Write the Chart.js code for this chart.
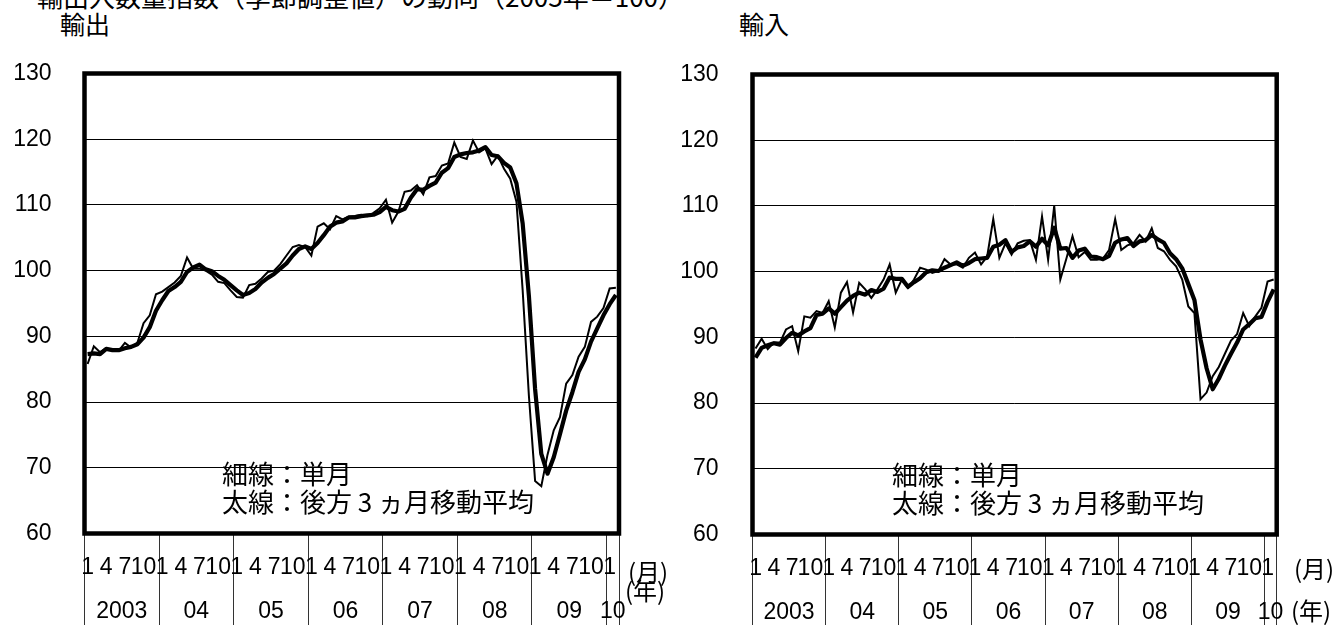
<!DOCTYPE html>
<html><head><meta charset="utf-8">
<script src="https://cdn.jsdelivr.net/npm/chart.js@4.4.1/dist/chart.umd.min.js"></script>
<style>
html,body{margin:0;padding:0;background:#fff;}
body{width:1339px;height:625px;position:relative;overflow:hidden;font-family:"Noto Sans CJK JP","Noto Sans",sans-serif;color:#000;}
canvas{position:absolute;top:0;}
.t{position:absolute;white-space:nowrap;font-size:25px;line-height:28px;}
.a{position:absolute;white-space:nowrap;font-size:26px;line-height:28px;}
.u{position:absolute;white-space:nowrap;font-size:24px;line-height:28px;}
</style></head><body>
<div class="a" style="left:37px;top:-18px;">輸出入数量指数（季節調整値）の動向（2005年＝100）</div>
<div class="t" style="left:60px;top:9px;">輸出</div>
<div class="t" style="left:739px;top:9px;">輸入</div>
<canvas id="c1" width="670" height="625" style="left:0;width:670px;height:625px"></canvas>
<canvas id="c2" width="669" height="625" style="left:670px;width:669px;height:625px"></canvas>
<div class="a" style="left:222px;top:459px;">細線：単月<br>太線：後方 3 ヵ月移動平均</div>
<div class="a" style="left:892px;top:460px;">細線：単月<br>太線：後方 3 ヵ月移動平均</div>
<div class="u" style="left:628px;top:557px;">(月)</div>
<div class="u" style="left:625px;top:576px;">(年)</div>
<div class="u" style="left:1294px;top:554px;">(月)</div>
<div class="u" style="left:1291px;top:596px;">(年)</div>
<script>
// ---- categories / tick labels ----
const years = ['2003','04','05','06','07','08','09','10'];
const monthsInYear = [12,12,12,12,12,12,12,2];
const monthTickLabels = {1:'1',4:'4',7:'7',10:'10'};

// ---- exports (輸出) ----
const exportsMonthly = [
 85.8, 88.5, 87.6, 88.2, 87.8, 87.8, 89.0, 88.3, 89.0, 92.0, 93.2, 96.4,
 96.8, 97.5, 98.2, 99.2, 102.0, 100.3, 100.3, 100.0, 99.4, 98.3, 98.1, 97.0,
 96.0, 95.9, 97.8, 98.0, 98.8, 99.8, 100.0, 101.0, 102.3, 103.6, 103.9, 103.6,
 102.3, 106.7, 107.2, 106.3, 108.3, 107.8, 108.2, 108.3, 108.5, 108.3, 108.8, 109.5,
 110.8, 107.3, 109.0, 112.0, 112.2, 113.0, 111.6, 114.2, 114.4, 116.0, 116.3, 119.5,
 117.3, 117.0, 119.8, 118.0, 118.6, 116.2, 117.5, 115.5, 114.0, 110.5, 97.0, 81.0,
 68.0, 67.2, 72.0, 75.7, 77.7, 82.8, 84.1, 86.9, 88.4, 92.2, 93.0, 94.3,
 97.3, 97.4];
const exportsMA3 = [
 87.3, 87.4, 87.3, 88.1, 87.9, 87.9, 88.2, 88.4, 88.8, 89.8, 91.4, 93.9,
 95.5, 96.9, 97.5, 98.3, 99.8, 100.5, 100.9, 100.2, 99.9, 99.2, 98.6, 97.8,
 97.0, 96.3, 96.6, 97.2, 98.2, 98.9, 99.5, 100.3, 101.1, 102.3, 103.3, 103.7,
 103.3, 104.2, 105.4, 106.7, 107.3, 107.5, 108.1, 108.1, 108.3, 108.4, 108.5, 108.9,
 109.7, 109.2, 109.0, 109.4, 111.1, 112.4, 112.3, 112.9, 113.4, 114.9, 115.6, 117.3,
 117.7, 117.9, 118.0, 118.3, 118.8, 117.6, 117.4, 116.4, 115.7, 113.3, 107.2, 96.2,
 82.0, 72.1, 69.1, 71.6, 75.1, 78.7, 81.5, 84.6, 86.5, 89.2, 91.2, 93.2,
 94.9, 96.3];

// ---- imports (輸入) ----
const importsMonthly = [
 88.3, 89.8, 88.2, 89.2, 89.2, 91.2, 91.7, 87.9, 93.2, 93.0, 94.0, 93.7,
 95.5, 91.5, 96.8, 98.4, 93.8, 98.3, 97.3, 96.0, 97.3, 98.8, 101.1, 96.8,
 98.8, 97.5, 98.8, 100.6, 100.3, 99.8, 100.1, 101.9, 101.1, 101.1, 100.6, 102.1,
 102.9, 101.1, 102.3, 108.0, 102.1, 104.3, 102.6, 104.3, 104.7, 104.8, 101.8, 108.4,
 101.8, 110.0, 98.8, 102.0, 105.4, 102.2, 103.0, 101.8, 101.8, 102.0, 103.3, 108.0,
 103.3, 104.0, 104.3, 105.6, 104.6, 106.6, 103.6, 103.1, 101.8, 100.8, 98.8, 94.7,
 93.7, 80.6, 81.6, 84.1, 85.5, 87.5, 89.5, 90.5, 93.7, 91.7, 93.2, 94.5,
 98.5, 98.8];
const importsMA3 = [
 86.9, 88.4, 88.8, 89.1, 88.9, 89.9, 90.7, 90.3, 90.9, 91.4, 93.4, 93.6,
 94.4, 93.6, 94.6, 95.6, 96.3, 96.8, 96.5, 97.2, 96.9, 97.4, 99.1, 98.9,
 98.9, 97.7, 98.4, 99.0, 99.9, 100.2, 100.1, 100.6, 101.0, 101.4, 100.9, 101.3,
 101.9, 102.0, 102.1, 103.8, 104.1, 104.8, 103.0, 103.7, 103.9, 104.6, 103.8, 105.0,
 104.0, 106.7, 103.5, 103.6, 102.1, 103.2, 103.5, 102.3, 102.2, 101.9, 102.4, 104.4,
 104.9, 105.1, 103.9, 104.6, 104.8, 105.6, 104.9, 104.4, 102.8, 101.9, 100.5, 98.1,
 95.7, 89.7, 85.3, 82.1, 83.7, 85.7, 87.5, 89.2, 91.2, 92.0, 92.9, 93.1,
 95.4, 97.3];

const yTicks = {min:60, max:130, step:10};
const FONT = '"Liberation Sans", Arial, sans-serif';

function buildTicks(){
  const t = []; let s = 0;
  years.forEach((y,k)=>{
    const n = monthsInYear[k];
    t.push({value:s-0.5, lbl:'', boundary:true});
    for(let m=1;m<=n;m++){ if(monthTickLabels[m]) t.push({value:s+m-1, lbl:[monthTickLabels[m]]}); }
    t.push({value:s+n/2-0.5, lbl:['', y]});
    s += n;
  });
  t.push({value:s-0.5, lbl:'', boundary:true});
  t.sort((a,b)=>a.value-b.value);
  return t;
}

const framePlugin = {
  id:'frame',
  afterDatasetsDraw(chart){
    const {ctx, chartArea:a} = chart;
    ctx.save();
    ctx.strokeStyle = '#000';
    ctx.lineWidth = 4.5;
    ctx.strokeRect(a.left, a.top, a.right-a.left, a.bottom-a.top);
    ctx.restore();
  }
};

function makeChart(id, monthly, ma, want, yPad){
  const tickList = buildTicks();
  const total = monthly.length;
  const lineCol = (c)=> (c.tick && c.tick.boundary) ? '#333' : 'rgba(0,0,0,0)';
  const cfg = {
    type:'line',
    data:{datasets:[
      {label:'単月', data: monthly.map((v,i)=>({x:i,y:v})), borderColor:'#000', borderWidth:2,
       pointRadius:0, tension:0, fill:false, order:2},
      {label:'後方3ヵ月移動平均', data: ma.map((v,i)=>({x:i,y:v})), borderColor:'#000', borderWidth:4.2,
       pointRadius:0, tension:0, fill:false, borderJoinStyle:'round', order:1}
    ]},
    options:{
      responsive:false, animation:false, events:[],
      layout:{padding:{left:10, top:70, right:50, bottom:0}},
      plugins:{legend:{display:false}, tooltip:{enabled:false}, title:{display:false}},
      scales:{
        x:{
          type:'linear', min:-0.5, max:total-0.5,
          afterBuildTicks:(sc)=>{ sc.ticks = tickList.map(t=>Object.assign({}, t)); },
          afterFit:(sc)=>{ sc.height = 625 - want.bottom; },
          border:{display:false},
          grid:{drawOnChartArea:false, drawTicks:true, tickLength:92, lineWidth:1,
                color:lineCol, tickColor:lineCol},
          ticks:{autoSkip:false, maxRotation:0, minRotation:0, padding:-79.25, color:'#000',
                 font:{family:FONT, size:23, lineHeight:43.5/23},
                 callback:(v,i,ts)=>ts[i].lbl}
        },
        y:{
          min:yTicks.min, max:yTicks.max,
          border:{display:false},
          grid:{color:'#000', lineWidth:1, drawTicks:false},
          ticks:{stepSize:yTicks.step, padding:yPad, color:'#000', font:{family:FONT, size:23}}
        }
      }
    },
    plugins:[framePlugin]
  };
  const chart = new Chart(document.getElementById(id), cfg);
  const ca = chart.chartArea;
  const p = chart.config.options.layout.padding;
  chart.config.options.layout.padding = {
    left: p.left + (want.left - ca.left),
    top: p.top + (want.top - ca.top),
    right: p.right + (ca.right - want.right),
    bottom: 0
  };
  chart.update();
  return chart;
}

makeChart('c1', exportsMonthly, exportsMA3, {left:84.5, top:73.5, right:619, bottom:533.5}, 33);
makeChart('c2', importsMonthly, importsMA3, {left:82.5, top:74.5, right:606.7, bottom:534.5}, 34);
</script>
</body></html>
